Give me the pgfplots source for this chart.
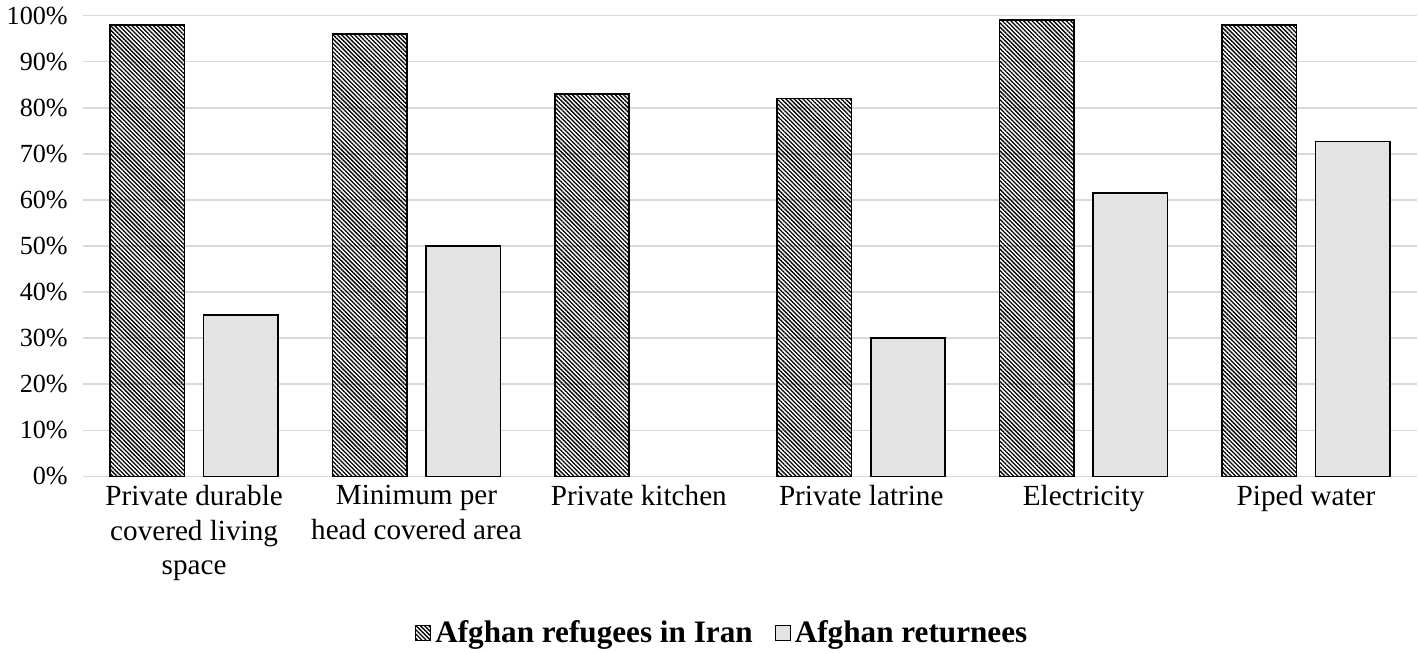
\documentclass[border=0pt]{standalone}
\usepackage{pgfplots}
\pgfplotsset{compat=1.18}
\usepackage{fontspec}
\setmainfont{Liberation Serif}
\usetikzlibrary{patterns.meta}
\definecolor{gridgray}{HTML}{D9D9D9}
\definecolor{barfill}{HTML}{E3E3E3}
\begin{document}
\begin{tikzpicture}
\begin{axis}[
  scale only axis,
  width=663pt, height=229pt,
  ymin=0, ymax=100,
  xmin=-0.5, xmax=5.5,
  ytick={0,10,...,100},
  yticklabel={\pgfmathprintnumber{\tick}\%},
  /pgf/number format/assume math mode=true,
  xtick={0,1,2,3,4,5},
  xticklabels={{Private durable\\covered living\\space},{Minimum per\\head covered area},{Private kitchen},{Private latrine},{Electricity},{Piped water}},
  xticklabel style={align=center, font=\fontsize{14.5}{17}\selectfont, yshift=-1pt},
  yticklabel style={font=\fontsize{13}{15}\selectfont, xshift=-4pt},
  ymajorgrids,
  grid style={gridgray, line width=0.8pt},
  axis line style={draw=none},
  major tick length=0pt,
  ybar,
  bar width=37pt,
  legend style={at={(axis description cs:0.48,-0.34)}, anchor=center, draw=none, legend columns=2,
    font=\bfseries\fontsize{15.5}{18}\selectfont, /tikz/every even column/.append style={column sep=9pt}},
  legend image code/.code={\draw[#1, line width=0.5pt] (0pt,-3.7pt) rectangle (7.4pt,3.7pt);},
]
\addplot[draw=black, line width=0.8pt, pattern={Lines[angle=-45,distance=1.5pt,line width=0.65pt]}, bar shift=-23.25pt]
  coordinates {(0,98) (1,96) (2,83) (3,82) (4,99) (5,98)};
\addlegendentry{Afghan refugees in Iran}
\addplot[draw=black, line width=0.8pt, fill=barfill, bar shift=23.25pt]
  coordinates {(0,35) (1,50) (3,30) (4,61.5) (5,72.7)};
\addlegendentry{Afghan returnees}
\end{axis}
\end{tikzpicture}
\end{document}
